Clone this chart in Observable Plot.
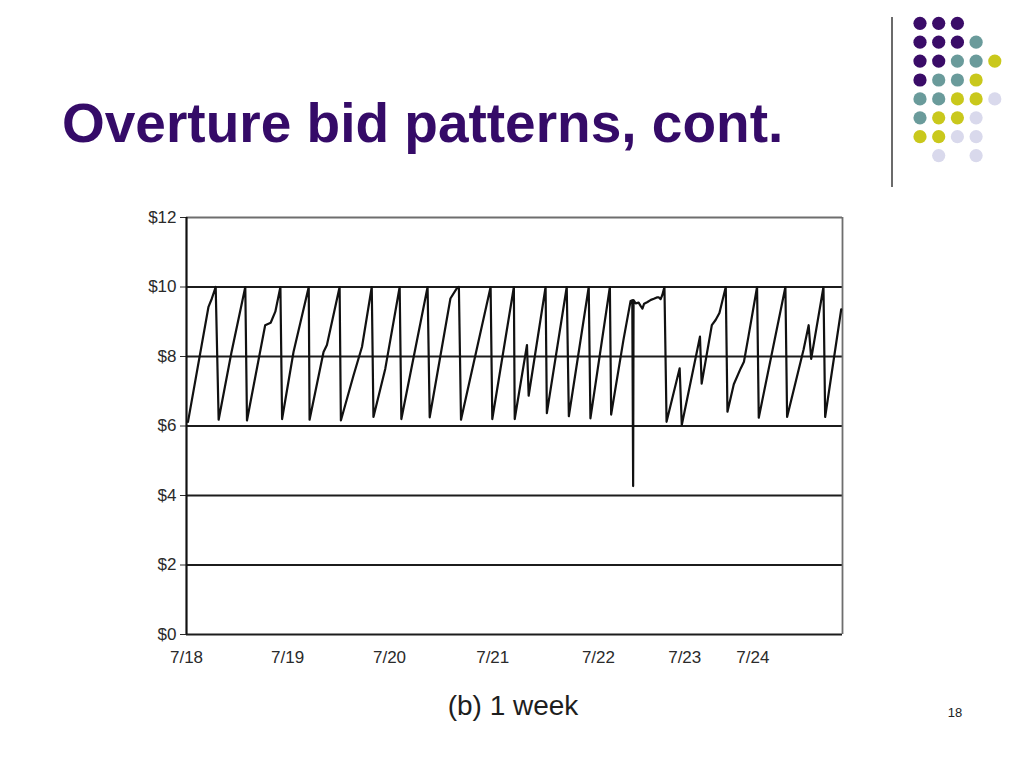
<!DOCTYPE html>
<html>
<head>
<meta charset="utf-8">
<script src="https://cdn.jsdelivr.net/npm/d3@7"></script>
<script src="https://cdn.jsdelivr.net/npm/@observablehq/plot@0.6"></script>
<style>
  html, body { margin: 0; padding: 0; background: #fff; }
  body { width: 1024px; height: 768px; position: relative; overflow: hidden; font-family: "Liberation Sans", Arial, sans-serif; }
  #title { position: absolute; left: 62px; top: 96px; font-size: 55px; font-weight: bold; color: #350b68; line-height: 1; white-space: nowrap; }
  #chart { position: absolute; left: 0; top: 190px; }
  #caption { position: absolute; left: 0; width: 1026px; top: 692px; text-align: center; font-size: 28px; color: #1e1e1e; line-height: 1; }
  #pagenum { position: absolute; left: 940px; top: 705px; width: 30px; text-align: center; font-size: 13px; color: #222; }
  #logo { position: absolute; left: 0; top: 0; }
</style>
</head>
<body>
<div id="title">Overture bid patterns, cont.</div>
<svg id="logo" width="1024" height="200"></svg>
<div id="chart"></div>
<div id="caption">(b) 1 week</div>
<div id="pagenum">18</div>
<script>
// Time in hours from the start of 7/18
const hours = [
  0.35, 5.2, 6.0, 6.9, 7.6, 10.6, 13.9, 14.3, 18.6, 19.9, 21.0, 22.2, 22.6, 25.3, 28.9, 29.1,
  32.4, 33.2, 36.2, 36.5, 39.5, 41.5, 43.8, 44.2, 47.0, 50.4, 50.8, 57.0, 57.5, 62.4, 63.9, 64.4,
  64.9, 71.9, 72.3, 77.4, 77.6, 80.5, 80.9, 84.9, 85.2, 89.9, 90.4, 95.1, 95.5, 100.1, 100.4,
  103.3, 105.0, 105.4, 105.6, 105.7, 106.2, 106.9, 107.4, 107.8, 108.2, 109.0, 109.8, 110.5,
  111.2, 111.7, 112.1, 112.5, 113.0, 113.5, 116.6, 117.1, 121.4, 121.8, 124.2, 125.1, 126.0,
  127.5, 127.9, 129.4, 131.0, 131.8, 132.9, 134.9, 135.3, 141.6, 142.0, 145.9, 147.1, 147.7,
  150.6, 151.0, 154.8
];
// Bid in dollars
const bids = [
  6.12, 9.43, 9.67, 10.0, 6.18, 8.1, 10.0, 6.16, 8.9, 8.97, 9.29, 10.0, 6.2, 8.13, 10.0, 6.18,
  8.13, 8.33, 10.0, 6.16, 7.46, 8.28, 10.0, 6.26, 7.65, 10.0, 6.2, 10.0, 6.25, 9.67, 9.96, 10.0,
  6.18, 10.0, 6.2, 10.0, 6.2, 8.33, 6.87, 10.0, 6.37, 10.0, 6.28, 10.0, 6.22, 10.0, 6.33,
  8.47, 9.6, 9.62, 4.27, 9.62, 9.53, 9.55, 9.45, 9.38, 9.52, 9.57, 9.63, 9.66,
  9.7, 9.7, 9.65, 9.77, 10.0, 6.12, 7.66, 6.03, 8.57, 7.22, 8.9, 9.05, 9.25,
  10.0, 6.41, 7.2, 7.65, 7.85, 8.6, 10.0, 6.24, 10.0, 6.26, 8.2, 8.9, 7.93,
  10.0, 6.26, 9.36
];
const xTickHours = [0, 23.9, 48.0, 72.4, 97.4, 117.8, 133.9];
const xTickLabels = ["7/18", "7/19", "7/20", "7/21", "7/22", "7/23", "7/24"];
const yTickValues = [0, 2, 4, 6, 8, 10, 12];
const yTickLabels = ["$0", "$2", "$4", "$6", "$8", "$10", "$12"];
const xEnd = 155.1;

const data = hours.map((t, i) => ({t, v: bids[i]}));

const chart = Plot.plot({
  width: 1024,
  height: 500,
  marginLeft: 186,
  marginRight: 182,
  marginTop: 27,
  marginBottom: 56,
  style: {fontFamily: "'Liberation Sans', Arial, sans-serif", fontSize: "17px", color: "#2a2a2a", background: "transparent"},
  x: {domain: [0, xEnd], ticks: xTickHours, tickFormat: d => xTickLabels[xTickHours.indexOf(d)], tickSize: 0, tickPadding: 16, label: null},
  y: {domain: [0, 12], ticks: yTickValues, tickFormat: d => yTickLabels[yTickValues.indexOf(d)], tickSize: 6, tickPadding: 4, label: null},
  marks: [
    Plot.ruleY(yTickValues.filter(d => d !== 12), {stroke: "#1c1c1c", strokeWidth: 1.9}),
    Plot.ruleY([12], {stroke: "#6e6e6e", strokeWidth: 2}),
    Plot.ruleX([xEnd], {stroke: "#6e6e6e", strokeWidth: 1.8}),
    Plot.ruleX([0], {stroke: "#111", strokeWidth: 2.2}),
    Plot.line(data, {x: "t", y: "v", stroke: "#111", strokeWidth: 2.2})
  ]
});
document.getElementById("chart").appendChild(chart);

// Decorative dot logo (slide template)
const logoColors = {P: "#3a0c68", T: "#6a9b9b", Y: "#c9c81c", L: "#d9d9ec"};
const logoRows = ["PPP..", "PPPT.", "PPTTY", "PTTY.", "TTYYL", "TYYL.", "YYLL.", ".L.L."];
const logoX = [920, 938.7, 957.4, 976.1, 994.8];
const logoY = [23.3, 42.2, 61.1, 80, 98.9, 117.8, 136.7, 155.6];
const logo = d3.select("#logo");
logo.append("line").attr("x1", 892).attr("x2", 892).attr("y1", 17).attr("y2", 187)
  .attr("stroke", "#3a3a3a").attr("stroke-width", 1.5);
logoRows.forEach((row, r) => {
  [...row].forEach((c, k) => {
    if (c !== ".") logo.append("circle").attr("cx", logoX[k]).attr("cy", logoY[r]).attr("r", 6.6).attr("fill", logoColors[c]);
  });
});
</script>
</body>
</html>
